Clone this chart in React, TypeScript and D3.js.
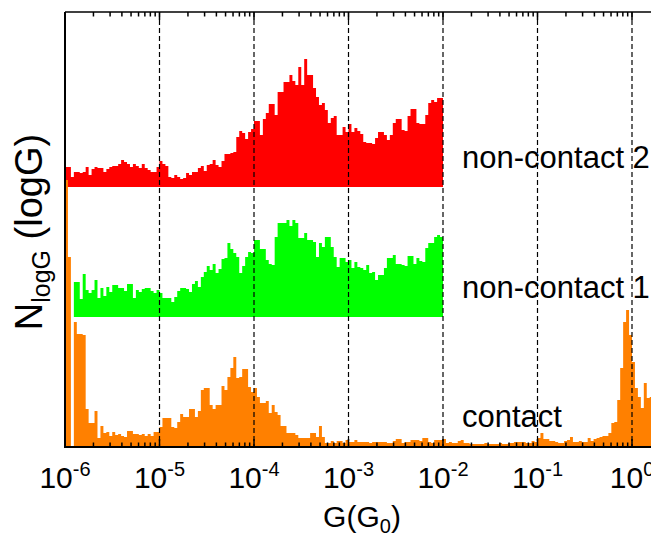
import React from 'react';
import * as d3 from 'd3';

// Log-binned conductance histograms, 32 bins per decade starting at G = 1e-6 G0.
const BIN_START_LOG = -6;
const BINS_PER_DECADE = 32;

// Counts (arbitrary units) per bin.
const contactCounts = [
  267, 190, 0, 125, 113, 113, 112, 38, 24, 24,
  36, 9, 21, 14, 15, 11, 15, 12, 13, 11,
  10, 16, 16, 13, 13, 12, 13, 11, 13, 11,
  15, 15, 20, 29, 29, 29, 20, 19, 25, 33,
  30, 30, 38, 38, 30, 36, 57, 59, 59, 42,
  38, 42, 42, 61, 57, 70, 79, 90, 69, 70,
  78, 78, 60, 55, 59, 50, 44, 44, 46, 34,
  42, 35, 32, 21, 21, 14, 14, 14, 12, 9,
  9, 9, 9, 14, 14, 10, 21, 10, 4, 4,
  6, 4, 6, 6, 4, 7, 5, 5, 7, 5,
  5, 5, 5, 4, 5, 5, 5, 5, 5, 4,
  4, 6, 8, 8, 4, 5, 5, 7, 7, 7,
  6, 9, 9, 5, 4, 7, 7, 7, 8, 4,
  5, 4, 4, 6, 7, 4, 4, 3, 3, 3,
  3, 3, 4, 3, 3, 3, 3, 4, 3, 3,
  4, 4, 5, 5, 5, 5, 4, 4, 6, 5,
  9, 14, 8, 8, 6, 6, 5, 4, 4, 6,
  7, 10, 5, 5, 6, 5, 5, 9, 6, 8,
  9, 10, 11, 11, 14, 24, 25, 47, 79, 125,
  137, 112, 85, 59, 50, 39, 64, 49, 50,
];

const nonContact1Counts = [
  0, 0, 0, 35, 35, 18, 43, 27, 24, 27,
  37, 19, 29, 21, 30, 25, 32, 32, 29, 29,
  26, 33, 33, 19, 27, 25, 28, 29, 29, 26,
  24, 27, 24, 19, 19, 19, 15, 20, 26, 29,
  29, 28, 25, 33, 36, 30, 40, 45, 51, 47,
  53, 44, 48, 58, 59, 74, 68, 64, 60, 44,
  51, 60, 65, 64, 77, 77, 68, 68, 57, 53,
  52, 80, 94, 94, 94, 97, 91, 97, 94, 79,
  79, 84, 77, 77, 75, 60, 74, 70, 80, 80,
  70, 60, 50, 59, 59, 55, 57, 49, 55, 50,
  49, 47, 52, 44, 45, 37, 42, 42, 49, 59,
  59, 62, 53, 53, 52, 51, 61, 61, 53, 59,
  56, 55, 69, 74, 74, 80, 82, 80,
];

const nonContact2Counts = [
  20, 20, 10, 15, 15, 14, 15, 20, 12, 18,
  20, 19, 19, 15, 18, 20, 21, 21, 23, 27,
  25, 23, 20, 23, 21, 19, 23, 19, 17, 15,
  15, 20, 26, 23, 21, 10, 9, 12, 10, 8,
  9, 14, 12, 15, 15, 19, 21, 16, 22, 23,
  27, 22, 20, 26, 33, 33, 34, 35, 50, 56,
  54, 48, 55, 58, 66, 66, 52, 68, 74, 83,
  83, 72, 95, 95, 105, 105, 112, 106, 102, 120,
  102, 128, 112, 112, 99, 90, 82, 84, 77, 64,
  69, 71, 52, 52, 60, 55, 63, 55, 59, 56,
  53, 45, 44, 44, 43, 49, 55, 55, 52, 47,
  52, 64, 68, 68, 57, 56, 71, 78, 78, 64,
  63, 63, 72, 84, 87, 85, 89, 89,
];

// Series: label, colour, vertical offset (same units as counts).
const seriesNames = ['non-contact 2', 'non-contact 1', 'contact'];
const seriesColors = ['#ff0000', '#00ff00', '#ff8000'];
const seriesOffsets = [260, 130, 0];
const seriesCounts = [nonContact2Counts, nonContact1Counts, contactCounts];

const tickExponents = [-6, -5, -4, -3, -2, -1, 0];
const gridExponents = [-5, -4, -3, -2, -1, 0];

const W = 651;
const H = 534;
const PLOT = { left: 65, top: 12, bottom: 447, right: 665 };
const DECADE_PX = 94.5;
const FONT = '"Liberation Sans", Arial, Helvetica, sans-serif';

export default function App() {
  const x = d3
    .scaleLog()
    .domain([1e-6, Math.pow(10, (PLOT.right - PLOT.left) / DECADE_PX - 6)])
    .range([PLOT.left, PLOT.right]);
  const y = d3.scaleLinear().domain([0, 435]).range([PLOT.bottom, PLOT.top]);

  const binEdge = (i: number) => Math.pow(10, BIN_START_LOG + i / BINS_PER_DECADE);

  const histPath = (counts: number[], offset: number) => {
    const pts: [number, number][] = counts.map((c, i) => [binEdge(i), c]);
    pts.push([binEdge(counts.length), counts[counts.length - 1]]);
    const area = d3
      .area<[number, number]>()
      .x((d) => x(d[0]))
      .y0(y(offset))
      .y1((d) => y(offset + d[1]))
      .curve(d3.curveStepAfter);
    return area(pts) || '';
  };

  const minorTicks = x.ticks().filter((t) => {
    const m = t / Math.pow(10, Math.floor(Math.log10(t) + 1e-9));
    return Math.abs(m - 1) > 1e-6;
  });
  const majorTicks = tickExponents.map((e) => Math.pow(10, e));

  return (
    <svg
      width={W}
      height={H}
      style={{ position: 'absolute', left: 0, top: 0, background: '#fff' }}
      fontFamily={FONT}
    >
      <defs>
        <clipPath id="plot-clip">
          <rect x={PLOT.left} y={PLOT.top} width={PLOT.right - PLOT.left} height={PLOT.bottom - PLOT.top} />
        </clipPath>
      </defs>
      <rect x={0} y={0} width={W} height={H} fill="#fff" />

      <g clipPath="url(#plot-clip)">
        {seriesCounts.map((counts, k) => (
          <path key={seriesNames[k]} d={histPath(counts, seriesOffsets[k])} fill={seriesColors[k]} />
        ))}
      </g>

      {/* decade grid */}
      {gridExponents.map((e) => (
        <line
          key={'g' + e}
          x1={x(Math.pow(10, e))}
          x2={x(Math.pow(10, e))}
          y1={PLOT.top}
          y2={PLOT.bottom}
          stroke="#000"
          strokeWidth={1.2}
          strokeDasharray="5,3"
        />
      ))}

      {/* frame */}
      <line x1={PLOT.left} x2={W + 2} y1={PLOT.top} y2={PLOT.top} stroke="#000" strokeWidth={1.6} />
      <line x1={PLOT.left} x2={W + 2} y1={PLOT.bottom} y2={PLOT.bottom} stroke="#000" strokeWidth={2} />
      <line x1={PLOT.left} x2={PLOT.left} y1={PLOT.top} y2={PLOT.bottom + 1} stroke="#000" strokeWidth={2} />

      {/* minor ticks, bottom and top, pointing inward */}
      {minorTicks.map((t, i) => (
        <g key={'m' + i}>
          <line x1={x(t)} x2={x(t)} y1={PLOT.bottom} y2={PLOT.bottom - 4.5} stroke="#000" strokeWidth={1.5} />
          <line x1={x(t)} x2={x(t)} y1={PLOT.top} y2={PLOT.top + 4.5} stroke="#000" strokeWidth={1.5} />
        </g>
      ))}
      {majorTicks.map((t, i) => (
        <g key={'M' + i}>
          <line x1={x(t)} x2={x(t)} y1={PLOT.bottom} y2={PLOT.bottom - 8} stroke="#000" strokeWidth={1.5} />
          <line x1={x(t)} x2={x(t)} y1={PLOT.top} y2={PLOT.top + 8} stroke="#000" strokeWidth={1.5} />
        </g>
      ))}

      {/* tick labels */}
      {tickExponents.map((e) => (
        <text key={'t' + e} x={x(Math.pow(10, e))} y={488} textAnchor="middle" fontSize={30} fill="#000">
          <tspan>10</tspan>
          <tspan fontSize={20} dy={-12}>{String(e)}</tspan>
        </text>
      ))}

      {/* axis titles */}
      <text x={362} y={527} textAnchor="middle" fontSize={30} fill="#000">
        <tspan>G(G</tspan>
        <tspan fontSize={20} dy={6}>0</tspan>
        <tspan dy={-6}>)</tspan>
      </text>
      <text transform="translate(42,232) rotate(-90)" textAnchor="middle" fontSize={38} fill="#000">
        <tspan>N</tspan>
        <tspan fontSize={25} dy={8}>logG</tspan>
        <tspan dy={-8}> (logG)</tspan>
      </text>

      {/* series labels */}
      <text x={462} y={168} fontSize={31} fill="#000">{seriesNames[0]}</text>
      <text x={462} y={298} fontSize={31} fill="#000">{seriesNames[1]}</text>
      <text x={462} y={427} fontSize={31} fill="#000">{seriesNames[2]}</text>
    </svg>
  );
}
